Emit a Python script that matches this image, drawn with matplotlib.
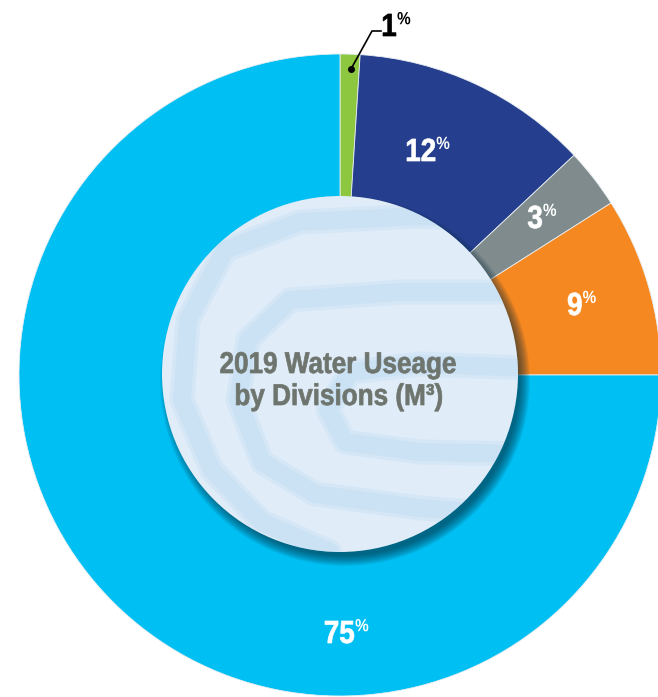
import matplotlib.pyplot as plt
from matplotlib.patches import Circle, PathPatch
from matplotlib.textpath import TextPath
from matplotlib.font_manager import FontProperties
from matplotlib.transforms import Affine2D

# chart data (clockwise from 12 o'clock)
divisions = ["Div A", "Div B", "Div C", "Div D", "Div E"]
shares = [1, 12, 3, 9, 75]
colors = ["#8dc63f", "#253f8e", "#7f8b8d", "#f58821", "#00bff3"]
title_lines = ["2019 Water Useage", "by Divisions (M³)"]

W, H = 658, 697
BOLD = FontProperties(family=["Liberation Sans", "DejaVu Sans"], weight="bold")
SX = 0.87  # squeeze to imitate a condensed face


def Y(y):
    # picture rows -> data y
    return H - y


def draw_text(x, y, s, size, color, ha="center", z=6):
    # text as a path so it can be condensed; y is the baseline row
    tp = TextPath((0, 0), s, size=size, prop=BOLD)
    bb = tp.get_extents()
    if ha == "center":
        dx = x - (bb.x0 + bb.width / 2) * SX
    elif ha == "left":
        dx = x - bb.x0 * SX
    else:
        dx = x - bb.x1 * SX
    path = Affine2D().scale(SX, 1).translate(dx, Y(y)).transform_path(tp)
    ax.add_patch(PathPatch(path, facecolor=color, edgecolor=color, lw=0.5, zorder=z))
    return dx + bb.x1 * SX, Y(y) + bb.y1


def pct(x, y, num, color="white", size=32):
    # x: left of the number, y: baseline row
    right, top = draw_text(x, y, num, size, color, ha="left")
    tp = TextPath((0, 0), "%", size=size * 0.55, prop=BOLD)
    bb = tp.get_extents()
    path = Affine2D().scale(SX, 1).translate(right + 1.5 - bb.x0 * SX,
                                               top + 2 - bb.y1).transform_path(tp)
    ax.add_patch(PathPatch(path, facecolor=color, edgecolor="none", zorder=6))


fig = plt.figure(figsize=(W / 100, H / 100), dpi=100)
ax = fig.add_axes([0, 0, 1, 1])

cx, cy, R = 340, Y(375), 321
wedges, _ = ax.pie(shares, colors=colors, startangle=90, counterclock=False,
                   center=(cx, cy), radius=R,
                   wedgeprops=dict(linewidth=0.6, edgecolor="#e8eef2"))

# inner disc with drop shadow
r_in = 178
icx, icy = 340, Y(374)
for i in range(14):
    ax.add_patch(Circle((icx + 5, icy - 7), r_in + 7 - i * 0.8,
                        color="#0a2a3a", alpha=0.06, lw=0, zorder=3))
disc = Circle((icx, icy), r_in, facecolor="#e0ecf8", edgecolor="none", zorder=4)
ax.add_patch(disc)

# watercolor bands
bands = [
    [(530, 222), (420, 216), (300, 222), (225, 250), (188, 320), (182, 400), (212, 470), (262, 522), (330, 552)],
    [(530, 292), (400, 292), (290, 300), (248, 340), (238, 400), (262, 462), (315, 494), (420, 508), (530, 516)],
    [(530, 368), (420, 364), (350, 372), (328, 410), (345, 442), (420, 452), (530, 454)],
]
for b in bands:
    xs = [p[0] for p in b]
    ys = [Y(p[1]) for p in b]
    for lw, a in [(18, 0.18), (13, 0.2)]:
        ln, = ax.plot(xs, ys, color="#a6d2ef", lw=lw, alpha=a, zorder=5,
                      solid_joinstyle="round", solid_capstyle="round")
        ln.set_clip_path(disc)

draw_text(338, 373, title_lines[0], 30, "#6e756e")
draw_text(339, 405, title_lines[1], 30, "#6e756e")

pct(407, 161, str(shares[1]))
pct(528, 228, str(shares[2]))
pct(568, 315, str(shares[3]))
pct(325, 643, str(shares[4]))
pct(383, 36, str(shares[0]), color="black")

# leader for the small slice
ax.plot([351, 372, 381], [Y(69), Y(31), Y(31)], color="black", lw=1.2, zorder=6)
ax.plot(351, Y(69), "o", color="black", ms=4, zorder=6)

ax.set_xlim(0, W)
ax.set_ylim(0, H)
ax.set_aspect("equal")
ax.axis("off")

fig.savefig("out.png", dpi=100, facecolor="white")
